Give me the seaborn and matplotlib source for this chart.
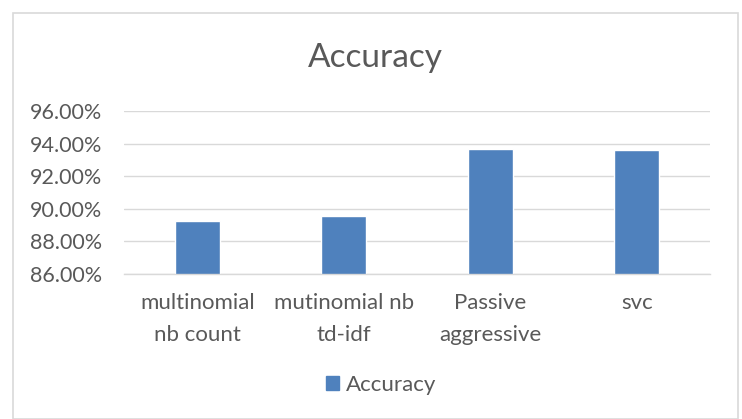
import pandas as pd
import numpy as np
import seaborn as sns
import matplotlib.pyplot as plt
from matplotlib.ticker import PercentFormatter, MultipleLocator
from matplotlib.patches import Rectangle

models = ['multinomial\nnb count', 'mutinomial nb\ntd-idf', 'Passive\naggressive', 'svc']
accuracy = [0.8925, 0.8958, 0.9367, 0.9359]
series = 'Accuracy'

df = pd.DataFrame({'model': models, 'accuracy': accuracy, 'series': series})

sns.set_style('white')
plt.rcParams['font.family'] = ['Lato', 'DejaVu Sans']

bar_color = '#4F81BD'
grid_color = '#D9D9D9'
text_color = '#595959'

fig = plt.figure(figsize=(7.42, 4.19), dpi=100)
ax = fig.add_axes([124 / 742, 1 - 274 / 419, 586 / 742, 163 / 419])

sns.barplot(data=df, x='model', y='accuracy', hue='series', palette=[bar_color],
            width=0.31, ax=ax, legend=False, saturation=1)

ax.set_ylim(0.86, 0.96)
ax.set_xlim(-0.5, 3.5)
ax.yaxis.set_major_locator(MultipleLocator(0.02))
ax.yaxis.set_major_formatter(PercentFormatter(xmax=1, decimals=2))
ax.grid(axis='y', color=grid_color, linewidth=1)
ax.set_axisbelow(True)
for s in ['top', 'right', 'left']:
    ax.spines[s].set_visible(False)
ax.spines['bottom'].set_color(grid_color)
ax.spines['bottom'].set_linewidth(1)
ax.set_xlabel('')
ax.set_ylabel('')
ax.tick_params(axis='x', length=0, labelsize=16, colors=text_color, pad=14)
ax.tick_params(axis='y', length=0, labelsize=15.5, colors=text_color, pad=16)
for lbl in ax.get_xticklabels():
    lbl.set_linespacing(1.75)

fig.text(375 / 742, 1 - 58 / 419, 'Accuracy', ha='center', va='center',
         fontsize=24, color=text_color)

handle = Rectangle((0, 0), 1, 1, color=bar_color)
fig.legend([handle], [series], loc='center', bbox_to_anchor=(381 / 742, 1 - 385 / 419),
           frameon=False, fontsize=16, labelcolor=text_color, handlelength=0.6,
           handleheight=0.6, handletextpad=0.3)

fig.patches.append(Rectangle((13 / 742, 0), 725 / 742, 1 - 13 / 419, transform=fig.transFigure,
                             fill=False, edgecolor=grid_color, linewidth=1.2))

fig.savefig('out.png', dpi=100)
